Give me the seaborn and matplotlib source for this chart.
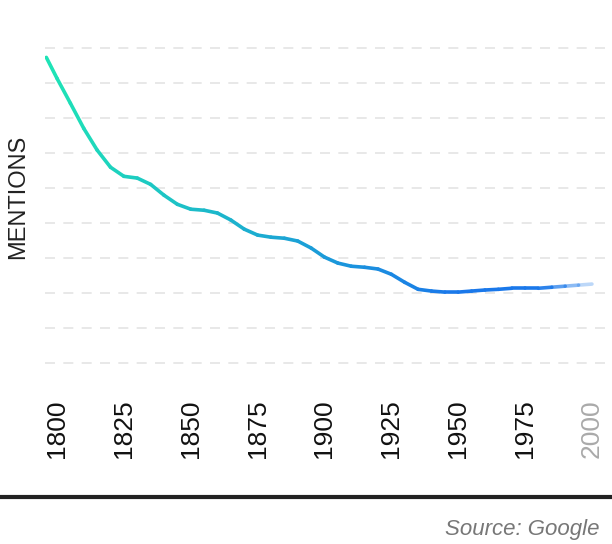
import matplotlib
matplotlib.use("Agg")
import matplotlib.pyplot as plt
import matplotlib.colors as mcolors
from matplotlib.collections import LineCollection
import numpy as np
import seaborn as sns

years = [1796, 1800, 1805, 1810, 1815, 1820, 1825, 1830, 1835, 1840, 1845, 1850,
         1855, 1860, 1865, 1870, 1875, 1880, 1885, 1890, 1895, 1900, 1905, 1910,
         1915, 1920, 1925, 1930, 1935, 1940, 1945, 1950, 1955, 1960, 1965, 1970,
         1975, 1980, 1985, 1990, 1995, 2000]
mentions = [8.74, 8.14, 7.43, 6.71, 6.09, 5.60, 5.34, 5.29, 5.11, 4.80, 4.54, 4.40,
            4.37, 4.29, 4.09, 3.83, 3.66, 3.60, 3.57, 3.49, 3.29, 3.03, 2.86, 2.77,
            2.74, 2.69, 2.54, 2.31, 2.11, 2.06, 2.03, 2.03, 2.06, 2.09, 2.11, 2.14,
            2.14, 2.14, 2.17, 2.20, 2.23, 2.26]
tick_years = [1800, 1825, 1850, 1875, 1900, 1925, 1950, 1975, 2000]

sns.set_theme(style="white")
plt.rcParams["font.family"] = "Liberation Sans"

fig = plt.figure(figsize=(6.12, 5.44), dpi=100)
ax = fig.add_axes([0.0735, 0.301, 0.9265, 0.643])
ax.set_xlim(1795.5, 2007.5)
ax.set_ylim(-0.49, 9.51)

for g in range(10):
    ax.axhline(g, color="#e4e4e4", lw=1.2, ls=(0, (6, 5)), zorder=1)

x = np.array(years, dtype=float)
y = np.array(mentions)
pts = np.column_stack([x, y]).reshape(-1, 1, 2)
segs = np.concatenate([pts[:-1], pts[1:]], axis=1)
c0 = np.array(mcolors.to_rgb("#1ee3b6"))
c1 = np.array(mcolors.to_rgb("#1a78ea"))
cols = []
for i in range(len(segs)):
    t = min((x[i] - 1796) / 150, 1.0)
    rgb = c0 * (1 - t) + c1 * t
    a = 1.0 if x[i] < 1978 else max(0.15, 1 - (x[i] - 1978) / 24)
    cols.append((*rgb, a))
ax.add_collection(LineCollection(segs, colors=cols, lw=2.6, capstyle="round",
                                 joinstyle="round", zorder=3))

ax.set_xticks(tick_years)
ax.set_xticklabels([str(t) for t in tick_years], rotation=90, fontsize=19,
                   color="#111111")
ax.get_xticklabels()[-1].set_color("#aaaaaa")
ax.tick_params(axis="x", length=0, pad=14)
ax.set_yticks([])
for s in ax.spines.values():
    s.set_visible(False)

fig.text(0.03, 1 - 197 / 544, "MENTIONS", rotation=90, fontsize=17, ha="center",
         va="center", color="#222222")
fig.add_artist(plt.Line2D([0, 1], [1 - 497 / 544] * 2, color="#222222", lw=3,
                          transform=fig.transFigure))
fig.text(0.98, 1 - 530 / 544, "Source: Google", fontsize=16, style="italic",
         color="#777777", ha="right", va="center")

fig.savefig("out.png", dpi=100)
